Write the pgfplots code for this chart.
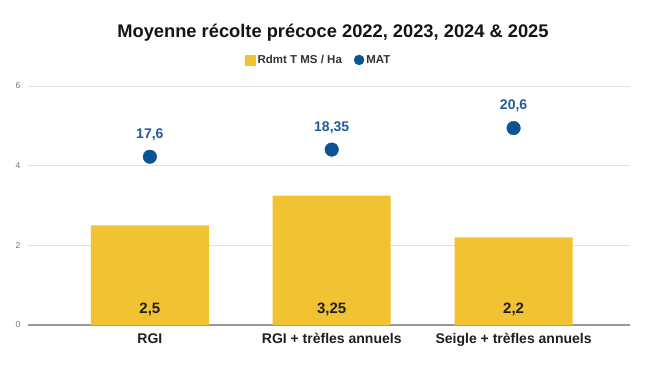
\documentclass[border=0pt]{standalone}
\usepackage{pgfplots}
\pgfplotsset{compat=1.18}
\usepackage{fontspec}
\setmainfont{Liberation Sans}
\definecolor{baryel}{HTML}{F1C232}
\definecolor{matblue}{HTML}{0B5394}
\definecolor{lblblue}{HTML}{23599A}
\begin{document}
\begin{tikzpicture}[x=1pt,y=1pt]
\useasboundingbox (0,0) rectangle (656,370);
\node[font=\bfseries\fontsize{18.3}{21}\selectfont, text=black!92] at (333,337) {Moyenne récolte précoce 2022, 2023, 2024 \& 2025};
\begin{axis}[at={(28pt,45pt)}, anchor=south west, scale only axis, width=602pt, height=239pt,
  xmin=-0.67, xmax=2.64, ymin=0, ymax=6, ytick={0,2,4,6},
  xtick={0,1,2}, xticklabels={RGI, RGI + trèfles annuels, Seigle + trèfles annuels},
  axis x line*=bottom, axis y line*=left,
  x axis line style={draw=black!40, line width=1.2pt, -},
  y axis line style={draw=none},
  major tick length=0pt,
  ymajorgrids, grid style={color=black!12, line width=0.8pt},
  /pgf/number format/assume math mode=true,
  yticklabel style={font=\fontsize{8.5}{10}\selectfont, text=black!55, xshift=-4pt},
  xticklabel style={font=\bfseries\fontsize{14}{16}\selectfont, text=black!88, yshift=-5pt},
]
\addplot[ybar, bar width=118pt, fill=baryel, draw=none] coordinates {(0,2.5) (1,3.25) (2,2.2)};
\addplot[draw=none, mark=none, forget plot, nodes near coords, point meta=explicit,
  every node near coord/.style={anchor=center, yshift=16pt, font=\bfseries\fontsize{15}{17}\selectfont, text=black!88, /pgf/number format/use comma},
] coordinates {(0,0) [2.5] (1,0) [3.25] (2,0) [2.2]};
\end{axis}
\begin{axis}[at={(28pt,45pt)}, anchor=south west, scale only axis, width=602pt, height=239pt,
  xmin=-0.67, xmax=2.64, ymin=0, ymax=25, hide axis,
  /pgf/number format/assume math mode=true,
  legend style={draw=none, fill=none, at={(0.483,1.109)}, anchor=center, legend columns=2,
    font=\bfseries\fontsize{11.5}{13}\selectfont, text=black!80,
    /tikz/every even column/.append style={column sep=10pt}},
]
\addlegendimage{legend image code/.code={\fill[baryel] (0pt,-5pt) rectangle (10pt,5pt);}}
\addlegendentry{Rdmt T MS / Ha}
\addplot[only marks, mark=*, mark size=6.8pt, color=matblue,
  nodes near coords,
  every node near coord/.style={anchor=center, yshift=22pt, font=\bfseries\fontsize{14}{16}\selectfont, text=lblblue, /pgf/number format/use comma},
  legend image code/.code={\fill[matblue] (5pt,0pt) circle (5pt);}
] coordinates {(0,17.6) (1,18.35) (2,20.6)};
\addlegendentry{MAT}
\end{axis}
\end{tikzpicture}
\end{document}
